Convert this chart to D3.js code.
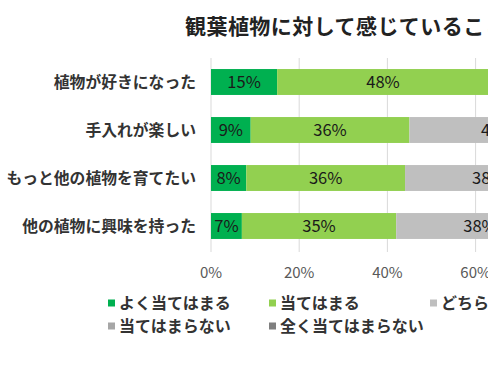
<!DOCTYPE html>
<html><head><meta charset="utf-8">
<script src="https://cdn.jsdelivr.net/npm/d3@7"></script>
<style>
html,body{margin:0;padding:0;background:#fff;overflow:hidden;}
svg{display:block;font-family:"Noto Sans CJK JP","Noto Sans",sans-serif;}
</style></head><body>
<svg id="c" width="488" height="366"></svg>
<script>
const title = "観葉植物に対して感じていること";
const categories = ["植物が好きになった","手入れが楽しい","もっと他の植物を育てたい","他の植物に興味を持った"];
const seriesNames = ["よく当てはまる","当てはまる","どちらともいえない","当てはまらない","全く当てはまらない"];
const seriesColors = ["#00B050","#92D050","#BFBFBF","#A6A6A6","#7F7F7F"];
const s1 = [15, 9, 8, 7];
const s2 = [48, 36, 36, 35];
const s3 = [31, 40, 38, 38];
const s4 = [4, 11, 13, 14];
const s5 = [2, 4, 5, 6];
const ticks = [0, 20, 40, 60, 80, 100];

const series = [s1, s2, s3, s4, s5];
const svg = d3.select("#c");
const x = d3.scaleLinear().domain([0, 100]).range([211, 652]);
const y = d3.scaleBand().domain(categories).range([58, 250]).paddingInner(0.46).paddingOuter(0.23);

// title
svg.append("text").attr("x", 185).attr("y", 34).attr("font-size", 21).attr("font-weight", "bold")
  .attr("letter-spacing", 0.45).attr("fill", "#222").text(title);

// gridlines
svg.append("g").selectAll("line").data(ticks).join("line")
  .attr("x1", d => x(d)).attr("x2", d => x(d)).attr("y1", 58).attr("y2", 252)
  .attr("stroke", "#D9D9D9").attr("stroke-width", 1);

// tick labels
svg.append("g").selectAll("text").data(ticks).join("text")
  .attr("x", d => x(d)).attr("y", 277.5).attr("text-anchor", "middle")
  .attr("font-size", 15).attr("fill", "#595959").text(d => d + "%");

// stacked bars
const stacked = categories.map((c, i) => {
  let acc = 0;
  return series.map((s, k) => { const seg = {c, k, v: s[i], x0: acc}; acc += s[i]; return seg; });
}).flat();

svg.append("g").selectAll("rect").data(stacked).join("rect")
  .attr("x", d => x(d.x0)).attr("width", d => x(d.x0 + d.v) - x(d.x0))
  .attr("y", d => y(d.c)).attr("height", y.bandwidth())
  .attr("fill", d => seriesColors[d.k]);

svg.append("g").selectAll("text").data(stacked).join("text")
  .attr("x", d => x(d.x0 + d.v / 2)).attr("y", d => y(d.c) + y.bandwidth() / 2 + 6)
  .attr("text-anchor", "middle").attr("font-size", 16.5).attr("fill", "#1a1a1a")
  .text(d => d.v + "%");

// category labels
svg.append("g").selectAll("text").data(categories).join("text")
  .attr("x", 196).attr("y", d => y(d) + y.bandwidth() / 2 + 6)
  .attr("text-anchor", "end").attr("font-size", 15.8).attr("font-weight", "bold")
  .attr("fill", "#333").text(d => d);

// legend
const legPos = [[108, 303], [269, 303], [430, 303], [108, 326], [269, 326]];
const leg = svg.append("g").selectAll("g").data(seriesNames).join("g")
  .attr("transform", (d, i) => `translate(${legPos[i][0]},${legPos[i][1]})`);
leg.append("rect").attr("x", 0).attr("y", -3.5).attr("width", 7).attr("height", 7)
  .attr("fill", (d, i) => seriesColors[i]);
leg.append("text").attr("x", 11).attr("y", 5.5).attr("font-size", 16).attr("font-weight", "bold")
  .attr("fill", "#333").text(d => d);
</script>
</body></html>
